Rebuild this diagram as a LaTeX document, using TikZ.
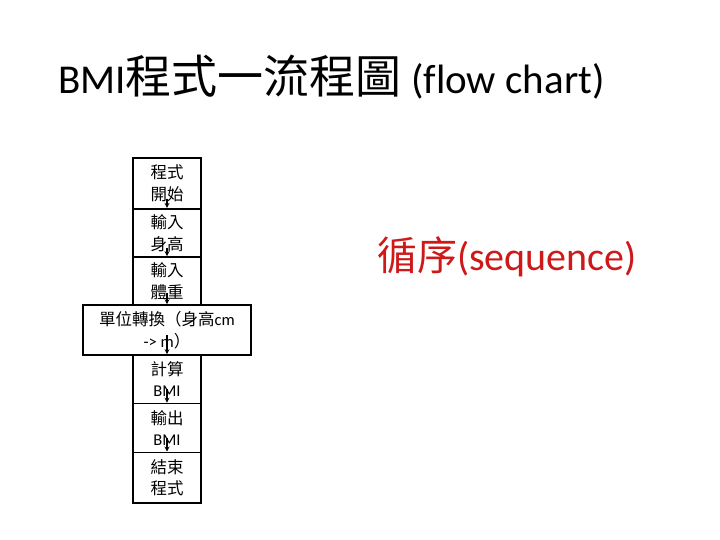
\documentclass[tikz,border=0pt]{standalone}
\usepackage{fontspec}
\setmainfont{Carlito}[Ligatures=NoCommon]
\newfontfamily\cjk{Noto Sans CJK TC}
\usetikzlibrary{arrows.meta}
\definecolor{seqred}{RGB}{205,25,25}
\tikzset{
  box/.style={draw=black, line width=1.6pt, align=center, inner sep=0pt,
    font=\fontsize{16.5}{21.5}\selectfont},
  narrow/.style={box, minimum width=68pt},
  arr/.style={-{Stealth[length=5pt,width=5pt]}, line width=1.6pt}
}
\begin{document}
\begin{tikzpicture}[x=1pt,y=-1pt]
\useasboundingbox (0,0) rectangle (720,540);
\node[anchor=base west, font=\fontsize{41}{48}\selectfont, inner sep=0pt] (title) at (58,94)
  {BMI{\cjk\fontsize{46}{50}\selectfont 程式一流程圖} (flow chart)};
\node[anchor=base west, text=seqred, font=\fontsize{40}{46}\selectfont, inner sep=0pt] (seq) at (377,270)
  {{\cjk 循序}(sequence)};
\node[narrow, minimum height=50.5pt] (b1) at (167,183.5) {\cjk 程式\\\cjk 開始};
\node[narrow, minimum height=48.5pt] (b2) at (167,233) {\cjk 輸入\\\cjk 身高};
\node[narrow, minimum height=48pt] (b3) at (167,281) {\cjk 輸入\\\cjk 體重};
\node[box, minimum width=168pt, minimum height=50pt] (b4) at (167,330) {{\cjk 單位轉換（身高}cm\\-> m{\cjk ）}};
\node[narrow, minimum height=48.5pt] (b5) at (167,379.25) {\cjk 計算\\BMI};
\node[narrow, minimum height=48.8pt] (b6) at (167,427.9) {\cjk 輸出\\BMI};
\node[narrow, minimum height=50.4pt] (b7) at (167,477.5) {\cjk 結束\\\cjk 程式};
\draw[arr] ([yshift=11pt]b1.south) -- (b2.north);
\draw[arr] ([yshift=10pt]b2.south) -- (b3.north);
\draw[arr] ([yshift=13pt]b3.south) -- (b4.north);
\draw[arr] ([yshift=21pt]b4.south) -- (b5.north);
\draw[arr] ([yshift=15pt]b5.south) -- (b6.north);
\draw[arr] ([yshift=15pt]b6.south) -- (b7.north);
\end{tikzpicture}
\end{document}
